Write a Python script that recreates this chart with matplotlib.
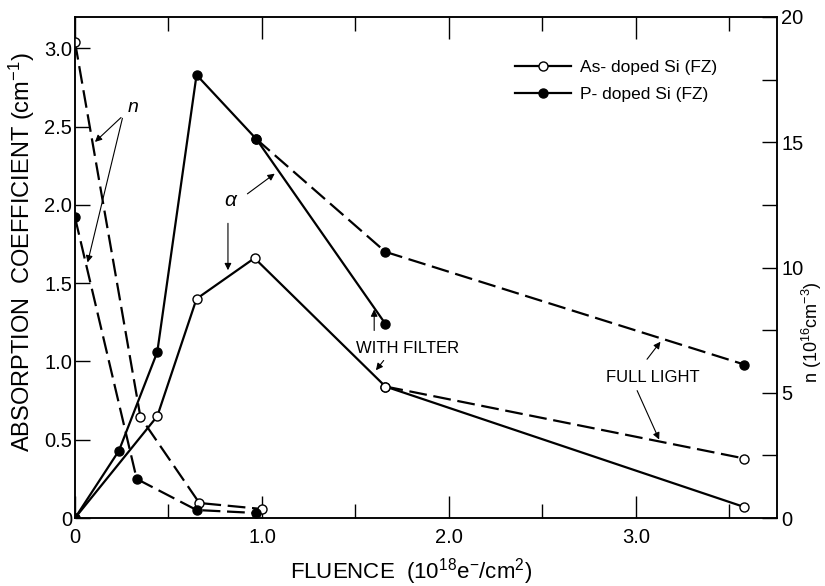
import matplotlib.pyplot as plt
from matplotlib.lines import Line2D
from matplotlib.ticker import MultipleLocator, FuncFormatter

plt.rcParams['font.family'] = ['Liberation Sans', 'DejaVu Sans']
plt.rcParams['mathtext.default'] = 'regular'

# absorption coefficient alpha (cm^-1) vs fluence (1e18 e/cm^2)
as_fluence = [0, 0.44, 0.65, 0.96, 1.66, 3.58]
as_alpha = [0, 0.65, 1.40, 1.66, 0.84, 0.07]
as_full_fluence = [1.66, 3.58]
as_full_alpha = [0.84, 0.38]

p_fluence = [0, 0.235, 0.44, 0.65, 0.97, 1.66]
p_alpha = [0, 0.43, 1.06, 2.83, 2.42, 1.24]
p_full_fluence = [0.97, 1.66, 3.58]
p_full_alpha = [2.42, 1.70, 0.98]

# carrier concentration n (1e16 cm^-3)
as_n_fluence = [0, 0.35, 0.665, 1.0]
as_n = [19.0, 4.03, 0.6, 0.36]
p_n_fluence = [0, 0.33, 0.65, 0.97]
p_n = [12.0, 1.56, 0.32, 0.2]

fig = plt.figure(figsize=(8.25, 5.86), dpi=100)
ax = fig.add_axes([0.0909, 0.116, 0.8509, 0.855])
ax2 = ax.twinx()

lw = 1.6
dash = (8, 3)
open_kw = dict(marker='o', ms=6.5, mfc='white', mec='black', mew=1.0, color='black', lw=lw)
fill_kw = dict(marker='o', ms=6.5, mfc='black', mec='black', color='black', lw=lw)

ax.plot(as_fluence, as_alpha, **open_kw)
ax.plot(as_full_fluence, as_full_alpha, dashes=dash, **open_kw)
ax.plot(p_fluence, p_alpha, **fill_kw)
ax.plot(p_full_fluence, p_full_alpha, dashes=dash, **fill_kw)

ax2.plot(as_n_fluence, as_n, dashes=dash, **open_kw)
ax2.plot(p_n_fluence, p_n, dashes=dash, **fill_kw)

ax.set_xlim(0, 3.754)
ax.set_ylim(0, 3.2)
ax2.set_ylim(0, 20)

ax.xaxis.set_major_locator(MultipleLocator(1.0))
ax.xaxis.set_minor_locator(MultipleLocator(0.5))
ax.yaxis.set_major_locator(MultipleLocator(0.5))
ax2.yaxis.set_major_locator(MultipleLocator(5))
ax2.yaxis.set_minor_locator(MultipleLocator(2.5))

fmt = FuncFormatter(lambda v, p: '0' if abs(v) < 1e-9 else f'{v:.1f}')
ax.xaxis.set_major_formatter(fmt)
ax.yaxis.set_major_formatter(fmt)

ax.tick_params(axis='x', which='major', direction='in', length=16, width=1, top=True, labelsize=14.5, pad=7)
ax.tick_params(axis='x', which='minor', direction='in', length=10, width=1, top=True)
ax.tick_params(axis='y', which='major', direction='in', length=11, width=1, labelsize=14.5, pad=2)
ax2.tick_params(axis='y', which='major', direction='in', length=11, width=1, labelsize=14.5, pad=3)
ax2.tick_params(axis='y', which='minor', direction='in', length=11, width=1)

for a in (ax, ax2):
    for s in a.spines.values():
        s.set_linewidth(1.1)

# axis titles placed in figure coordinates
fig.text(411 / 825, 1 - 572 / 586, r'FLUENCE  (10$^{18}$e$^{-}$/cm$^{2}$)',
         fontsize=16, ha='center', va='center')
fig.text(22 / 825, 1 - 252 / 586, r'ABSORPTION  COEFFICIENT (cm$^{-1}$)',
         fontsize=17, ha='center', va='center', rotation=90)
fig.text(812 / 825, 1 - 332 / 586, r'n (10$^{16}$cm$^{-3}$)',
         fontsize=13, ha='center', va='center', rotation=90)

handles = [
    Line2D([], [], **open_kw),
    Line2D([], [], **fill_kw),
]
ax.legend(handles, ['As- doped Si (FZ)', 'P- doped Si (FZ)'],
          loc='upper left', bbox_to_anchor=(0.605, 0.945), frameon=False,
          fontsize=12.5, handlelength=3.2, handletextpad=0.5, labelspacing=0.65)

arrow = dict(arrowstyle='-|>', color='black', lw=0.8, mutation_scale=10)

ax.text(0.31, 2.62, 'n', fontsize=14, style='italic', ha='center', va='center')
ax.annotate('', xy=(0.096, 2.39), xytext=(0.257, 2.57), arrowprops=arrow)
ax.annotate('', xy=(0.064, 1.615), xytext=(0.257, 2.57), arrowprops=arrow)

ax.text(0.83, 2.03, 'α', fontsize=15, style='italic', ha='center', va='center')
ax.annotate('', xy=(1.08, 2.21), xytext=(0.91, 2.06), arrowprops=arrow)
ax.annotate('', xy=(0.818, 1.565), xytext=(0.818, 1.90), arrowprops=arrow)

ax.annotate('', xy=(1.60, 1.35), xytext=(1.60, 1.18), arrowprops=arrow)
ax.text(1.78, 1.08, 'WITH FILTER', fontsize=12, ha='center', va='center')
ax.annotate('', xy=(1.60, 0.93), xytext=(1.66, 1.02), arrowprops=arrow)

ax.text(3.09, 0.90, 'FULL LIGHT', fontsize=12, ha='center', va='center')
ax.annotate('', xy=(3.14, 1.14), xytext=(3.05, 1.00), arrowprops=arrow)
ax.annotate('', xy=(3.13, 0.485), xytext=(3.0, 0.83), arrowprops=arrow)

fig.savefig('out.png', dpi=100)
